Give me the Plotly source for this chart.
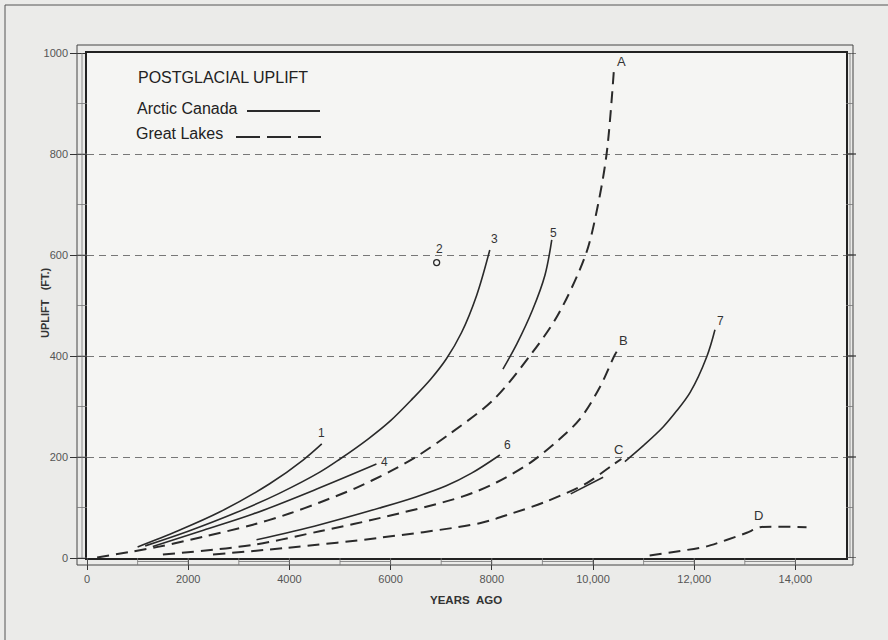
import plotly.graph_objects as go

# ---------------- data ----------------
c1_years = [1000, 1800, 2620, 3610, 4270, 4640]
c1_ft = [22, 54, 91, 147, 194, 226]

c3_years = [1150, 2000, 2950, 3800, 4600, 5000, 5560, 6000, 6440, 6800, 7100, 7400, 7700, 7960]
c3_ft = [24, 53, 90, 128, 170, 196, 236, 272, 316, 355, 394, 446, 520, 610]

c4_years = [1300, 2300, 3280, 4600, 5720]
c4_ft = [23, 55, 87, 139, 186]

c5_years = [8220, 8500, 8800, 9050, 9185]
c5_ft = [374, 425, 490, 560, 630]

c6_years = [3350, 4600, 5780, 6500, 7100, 7600, 8160]
c6_ft = [36, 66, 99, 121, 143, 168, 204]

c7_years = [10630, 11000, 11390, 11650, 11920, 12250, 12410]
c7_ft = [191, 223, 260, 291, 328, 399, 452]

c7b_years = [9560, 10200]           # short solid piece alongside C
c7b_ft = [127, 160]

gA_years = [200, 850, 1400, 2300, 3280, 4000, 4600, 5300, 6000, 6500, 7170, 8030, 8750, 9300,
            9860, 10100, 10270, 10410]
gA_ft = [1, 12, 22, 42, 66, 88, 110, 138, 172, 200, 246, 313, 400, 480, 602, 700, 801, 962]

gB_years = [1500, 3280, 4600, 5780, 7430, 8100, 8750, 9300, 9740, 10140, 10430, 10500]
gB_ft = [7, 26, 53, 79, 122, 150, 188, 232, 275, 339, 402, 413]

gC_years = [2490, 3940, 5780, 7760, 8420, 9080, 9870, 10400, 10560]
gC_ft = [7, 20, 40, 69, 89, 112, 148, 185, 196]

gD_years = [11120, 12250, 13040, 13300, 14220]
gD_ft = [5, 23, 50, 61, 61]

pt2_year = [6910]
pt2_ft = [585]

x_tickvals = [0, 2000, 4000, 6000, 8000, 10000, 12000, 14000]
x_ticktext = ["0", "2000", "4000", "6000", "8000", "10,000", "12,000", "14,000"]
y_tickvals = [0, 200, 400, 600, 800, 1000]
y_ticktext = ["0", "200", "400", "600", "800", "1000"]

# ---------------- styling ----------------
INK = "#2a2a2a"
FONT = "Liberation Sans, Arial, sans-serif"
DASH = "12px,7px"

fig = go.Figure()

solid = [("1", c1_years, c1_ft, -1, 0, 11, 1.0),
         ("3", c3_years, c3_ft, -1, 5, 11, 1.0),
         ("4", c4_years, c4_ft, -1, 8, 2, 1.0),
         ("5", c5_years, c5_ft, -1, 2, 7, 1.0),
         ("6", c6_years, c6_ft, -1, 8, 10, 1.0),
         ("7", c7_years, c7_ft, -1, 6, 9, 1.0),
         (None, c7b_years, c7b_ft, -1, 0, 0, 1.0)]
dashed = [("A", gA_years, gA_ft, -1, 8, 11, 0.9),
          ("B", gB_years, gB_ft, -1, 5, 9, 0.9),
          ("C", gC_years, gC_ft, -1, -3, 10, 0.9),
          ("D", gD_years, gD_ft, 3, -1, 12, 0.5)]

annotations = []
for name, xs, ys, idx, dx, dy, sm in solid:
    fig.add_trace(go.Scatter(x=xs, y=ys, mode="lines",
                             line=dict(color=INK, width=1.6, shape="spline", smoothing=sm),
                             showlegend=False, hoverinfo="skip"))
    if name:
        annotations.append(dict(x=xs[idx], y=ys[idx], text=name, showarrow=False,
                                xshift=dx, yshift=dy, font=dict(size=12, color="#333", family=FONT)))
for name, xs, ys, idx, dx, dy, sm in dashed:
    fig.add_trace(go.Scatter(x=xs, y=ys, mode="lines",
                             line=dict(color=INK, width=2, dash=DASH, shape="spline", smoothing=sm),
                             showlegend=False, hoverinfo="skip"))
    annotations.append(dict(x=xs[idx], y=ys[idx], text=name, showarrow=False,
                            xshift=dx, yshift=dy, font=dict(size=13, color="#333", family=FONT)))

fig.add_trace(go.Scatter(x=pt2_year, y=pt2_ft, mode="markers",
                         marker=dict(symbol="circle-open", size=6, color=INK, line=dict(width=1.3)),
                         showlegend=False, hoverinfo="skip"))
annotations.append(dict(x=pt2_year[0], y=pt2_ft[0], text="2", showarrow=False,
                        xshift=3, yshift=14, font=dict(size=12, color="#333", family=FONT)))

# ---------------- legend (drawn by hand, text before line) ----------------
def px2paper_x(px):
    return (px - 87) / 759.0

def px2paper_y(py):
    return (558 - py) / 505.0

annotations += [
    dict(xref="paper", yref="paper", x=px2paper_x(136), y=px2paper_y(77), text="POSTGLACIAL UPLIFT",
         showarrow=False, xanchor="left", yanchor="middle",
         font=dict(size=16, color="#222", family=FONT)),
    dict(xref="paper", yref="paper", x=px2paper_x(135), y=px2paper_y(108), text="Arctic Canada",
         showarrow=False, xanchor="left", yanchor="middle",
         font=dict(size=16, color="#222", family=FONT)),
    dict(xref="paper", yref="paper", x=px2paper_x(134), y=px2paper_y(133), text="Great Lakes",
         showarrow=False, xanchor="left", yanchor="middle",
         font=dict(size=16, color="#222", family=FONT)),
    dict(xref="paper", yref="paper", x=px2paper_x(37), y=px2paper_y(303),
         text="<b>UPLIFT\u00a0\u00a0\u00a0(FT.)</b>", textangle=-90, showarrow=False,
         font=dict(size=11, color="#333", family=FONT)),
    dict(xref="paper", yref="paper", x=px2paper_x(466), y=px2paper_y(608),
         text="<b>YEARS\u00a0\u00a0AGO</b>", showarrow=False,
         font=dict(size=11.5, color="#333", family=FONT)),
]

shapes = [
    dict(type="line", xref="paper", yref="paper", x0=px2paper_x(247), x1=px2paper_x(320),
         y0=px2paper_y(111), y1=px2paper_y(111), line=dict(color=INK, width=2)),
    dict(type="line", xref="paper", yref="paper", x0=px2paper_x(236), x1=px2paper_x(321),
         y0=px2paper_y(137), y1=px2paper_y(137), line=dict(color=INK, width=2, dash="24px,7px")),
]

# ---------------- ruler-style frame ----------------
frame = dict(color="#444", width=1)
L0, R1 = px2paper_x(77), px2paper_x(853)
T1, B0 = px2paper_y(45), px2paper_y(565)
shapes += [
    dict(type="rect", xref="paper", yref="paper", x0=L0, x1=R1, y0=B0, y1=T1, line=frame),
    dict(type="line", xref="paper", yref="paper", x0=px2paper_x(82), x1=px2paper_x(82), y0=0, y1=1,
         line=dict(color="#777", width=0.8)),
    dict(type="line", xref="paper", yref="paper", x0=px2paper_x(850), x1=px2paper_x(850), y0=0, y1=1,
         line=dict(color="#777", width=0.8)),
    # outer page border (top and left)
    dict(type="line", xref="paper", yref="paper", x0=px2paper_x(5), x1=px2paper_x(888),
         y0=px2paper_y(5), y1=px2paper_y(5), line=dict(color="#555", width=1)),
    dict(type="line", xref="paper", yref="paper", x0=px2paper_x(5), x1=px2paper_x(5),
         y0=px2paper_y(5), y1=px2paper_y(640), line=dict(color="#555", width=1)),
]
# alternating ruler segments along the bottom (every 1000 years)
for k in range(15):
    if k % 2 == 1:
        yp = px2paper_y(561.5)
        shapes.append(dict(type="line", xref="x", yref="paper", x0=k * 1000, x1=(k + 1) * 1000,
                           y0=yp, y1=yp, line=dict(color="#777", width=0.8)))
    shapes.append(dict(type="line", xref="x", yref="paper", x0=k * 1000, x1=k * 1000,
                       y0=px2paper_y(558), y1=px2paper_y(565), line=dict(color="#777", width=0.8)))
# alternating segments on the sides (every 100 ft)
for k in range(10):
    shapes.append(dict(type="line", xref="paper", yref="y", x0=L0, x1=0, y0=k * 100, y1=k * 100,
                       line=dict(color="#777", width=0.8)))
    shapes.append(dict(type="line", xref="paper", yref="y", x0=1, x1=R1, y0=k * 100, y1=k * 100,
                       line=dict(color="#777", width=0.8)))
# right-hand ticks
for v in y_tickvals:
    shapes.append(dict(type="line", xref="paper", yref="y", x0=1, x1=px2paper_x(856), y0=v, y1=v,
                       line=dict(color="#333", width=1.2)))

fig.update_layout(
    width=888, height=640,
    margin=dict(l=87, r=42, t=53, b=82),
    paper_bgcolor="#ebebe9",
    plot_bgcolor="#f5f5f3",
    font=dict(family=FONT, color="#555", size=11),
    showlegend=False,
    annotations=annotations,
    shapes=shapes,
    xaxis=dict(range=[0, 15000], tickvals=x_tickvals, ticktext=x_ticktext,
               ticks="outside", ticklen=10, tickcolor="#333", tickwidth=1.2,
               showline=True, linecolor="#222", linewidth=1.5, mirror=True,
               showgrid=False, zeroline=False, fixedrange=True,
               tickfont=dict(size=11, color="#555")),
    yaxis=dict(range=[0, 1000], tickvals=y_tickvals, ticktext=y_ticktext,
               ticks="outside", ticklen=15, tickcolor="#333", tickwidth=1.2,
               showline=True, linecolor="#222", linewidth=1.5, mirror=True,
               showgrid=True, gridcolor="#777", gridwidth=1, griddash="7px,5px",
               zeroline=False, fixedrange=True,
               tickfont=dict(size=11, color="#555")),
)

fig.write_html("out.html")
